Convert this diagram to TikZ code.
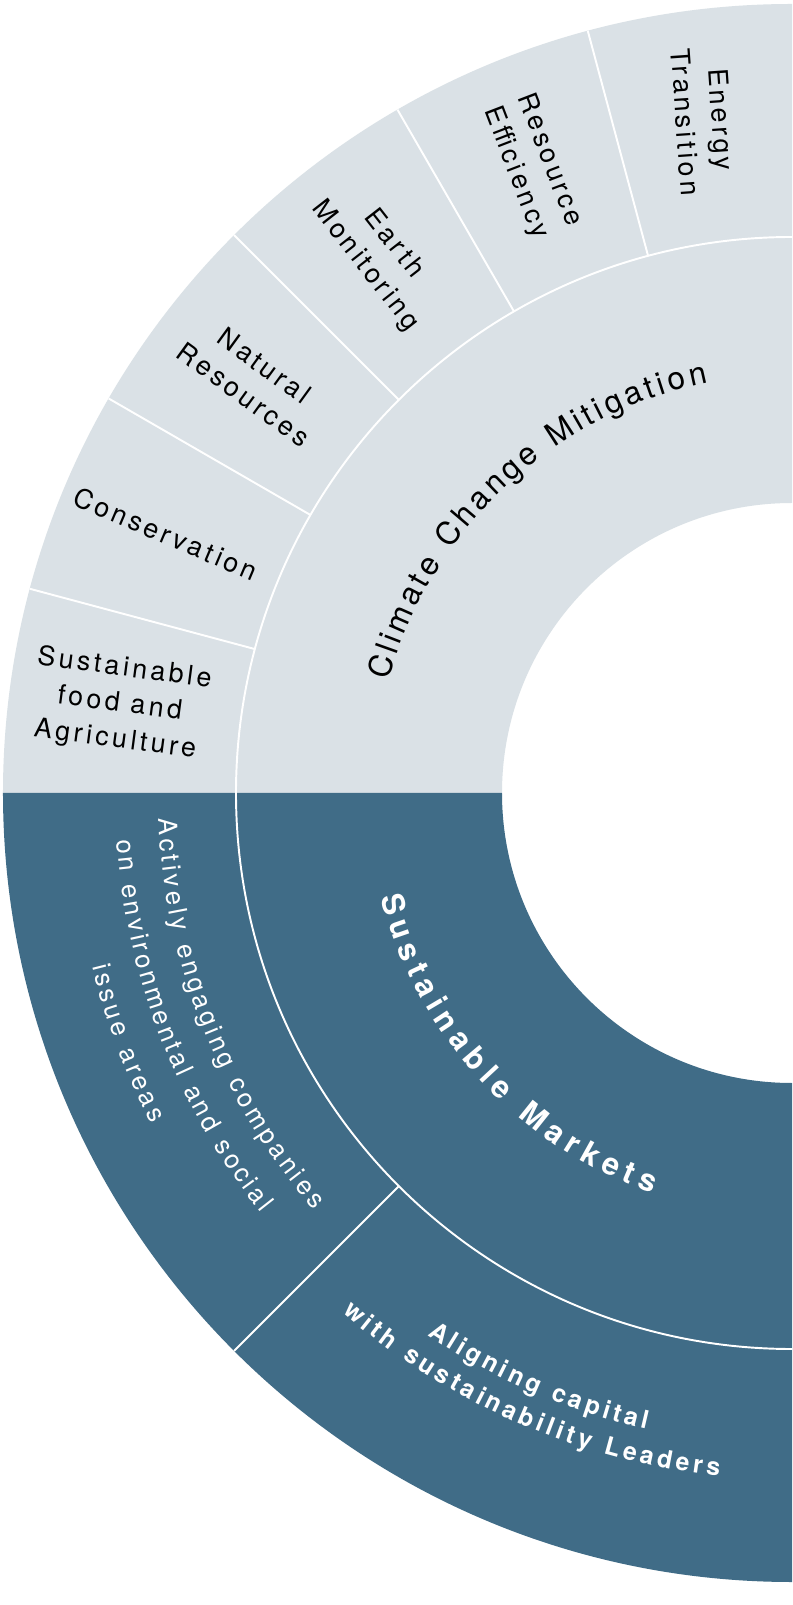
\documentclass[tikz,border=0pt]{standalone}
\usepackage{fontspec}
\usetikzlibrary{decorations.text}
\setmainfont{TeX Gyre Heros}
\newfontfamily\segfont[LetterSpace=13]{TeX Gyre Heros}
\definecolor{MistGray}{RGB}{218,225,230}
\definecolor{DeepTeal}{RGB}{64,108,135}
\tikzset{
	sep/.style={draw=white,line width=1.1pt},
	seglabel/.style={font=\segfont\fontsize{15.3}{20.4}\selectfont,align=center,inner sep=0pt},
	arctext/.style={decorate,decoration={text along path,text align=fit to path,#1}},
}
\newcommand{\rIn}{290}
\newcommand{\rMid}{556}
\newcommand{\rOut}{789}

\begin{document}
\begin{tikzpicture}[x=0.02cm,y=0.02cm]
	\fill[white] (-792,-812) rectangle (0,793);
	\useasboundingbox (-792,-812) rectangle (0,793);
	% upper half
	\fill[MistGray] (90:\rIn) arc[start angle=90,end angle=180,radius=\rIn]
		-- (180:\rOut) arc[start angle=180,end angle=90,radius=\rOut] -- cycle;
	% lower half
	\fill[DeepTeal] (180:\rIn) arc[start angle=180,end angle=270,radius=\rIn]
		-- (270:\rOut) arc[start angle=270,end angle=180,radius=\rOut] -- cycle;
	% separators
	\draw[sep] (90:\rMid) arc[start angle=90,end angle=270,radius=\rMid];
	\foreach \a in {105,120,135,150,165,225}
	\draw[sep] (\a:\rMid) -- (\a:\rOut);
	% outer ring, upper half
	\foreach \a/\rot/\nm/\txt in {97.5/-86/energy/{Energy\\Transition},112.5/-69/resource/{Resource\\Efficiency},
		127.5/-52/earth/{Earth\\Monitoring},142.5/-36/natural/{Natural\\Resources},
		157.5/-23/conserv/{Conservation},172.5/-7.5/food/{Sustainable\\food and\\Agriculture}}
	\node[seglabel,rotate=\rot] (\nm) at (\a:678) {\txt};
	% middle ring
	\path[arctext={text={|\fontsize{18}{20}\selectfont|Climate Change Mitigation}}]
		(164.5:419) arc[start angle=164.5,end angle=101.5,radius=419];
	\path[arctext={text color=white,text={|\bfseries\fontsize{17.6}{20}\selectfont|Sustainable Markets}}]
		(194.2:424) arc[start angle=194.2,end angle=250.8,radius=424];
	% outer ring, lower half
	\path[arctext={text color=white,text={|\fontsize{14.7}{20}\selectfont|Actively engaging companies}}]
		(182.3:634) arc[start angle=182.3,end angle=221.1,radius=634];
	\path[arctext={text color=white,text={|\fontsize{14.7}{20}\selectfont|on environmental and social}}]
		(184:677) arc[start angle=184,end angle=218.3,radius=677];
	\path[arctext={text color=white,text={|\fontsize{14.7}{20}\selectfont|issue areas}}]
		(193.9:721) arc[start angle=193.9,end angle=207.3,radius=721];
	\path[arctext={text color=white,text={|\bfseries\fontsize{14.2}{20}\selectfont|Aligning capital}}]
		(236.1:653) arc[start angle=236.1,end angle=257.1,radius=653];
	\path[arctext={text color=white,text={|\bfseries\fontsize{14.2}{20}\selectfont|with sustainability Leaders}}]
		(229.1:687) arc[start angle=229.1,end angle=263.9,radius=687];
\end{tikzpicture}
\end{document}
